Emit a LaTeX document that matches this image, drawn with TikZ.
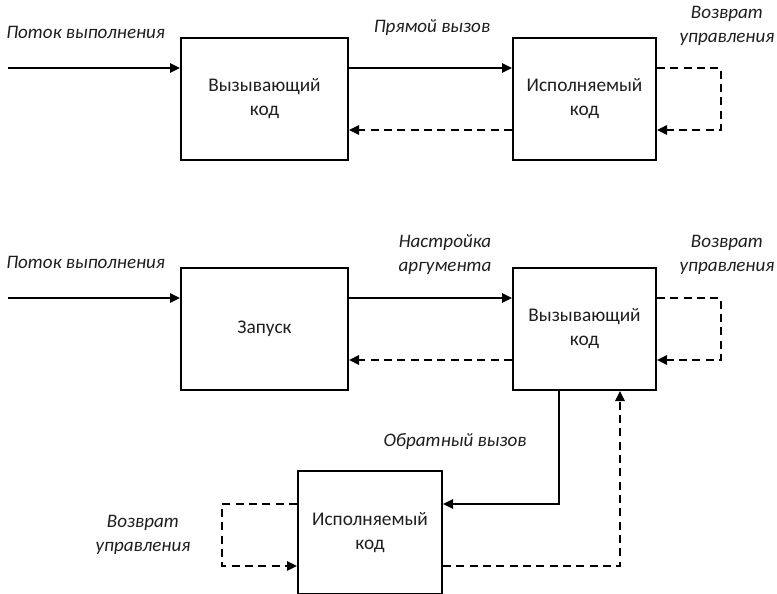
\documentclass[tikz,border=0pt]{standalone}
\usepackage{fontspec}
\setmainfont{Carlito}
\usetikzlibrary{arrows.meta}
\definecolor{txt}{RGB}{30,30,30}
\begin{document}
\begin{tikzpicture}[x=0.75pt,y=-0.75pt,
  box/.style={draw,line width=1.5pt,rectangle,align=center,text=txt,
    font=\fontsize{14.5pt}{18pt}\selectfont,inner sep=0pt},
  lbl/.style={align=center,text=txt,font=\fontsize{14.3pt}{18pt}\selectfont\itshape,inner sep=0pt},
  conn/.style={line width=1.5pt,-{Triangle[length=7.5pt,width=7pt]}},
  dconn/.style={conn,dash pattern=on 6pt off 4pt},
  dline/.style={line width=1.5pt,dash pattern=on 6pt off 4pt}]
\useasboundingbox (0,0) rectangle (777,593);
% boxes
\node[box,minimum width=125.25pt,minimum height=91.5pt] (b1) at (264.5,99) {Вызывающий\\код};
\node[box,minimum width=107.25pt,minimum height=91.5pt] (b2) at (584.5,99) {Исполняемый\\код};
\node[box,minimum width=125.25pt,minimum height=91.5pt] (b3) at (264.5,329) {Запуск};
\node[box,minimum width=107.25pt,minimum height=91.5pt] (b4) at (584.5,329) {Вызывающий\\код};
\node[box,minimum width=108pt,minimum height=92.25pt] (b5) at (370,532.5) {Исполняемый\\код};
% labels
\node[lbl,anchor=west] (l1) at (6,32) {Поток выполнения};
\node[lbl] (l2) at (432,28) {Прямой вызов};
\node[lbl] (l3) at (727,26) {Возврат\\управления};
\node[lbl,anchor=west] (l4) at (6,262) {Поток выполнения};
\node[lbl] (l5) at (445,255) {Настройка\\аргумента};
\node[lbl] (l6) at (727,255) {Возврат\\управления};
\node[lbl] (l7) at (455,442) {Обратный вызов};
\node[lbl] (l8) at (143,535) {Возврат\\управления};
% coordinates
\coordinate (s1) at (8,68);
\coordinate (d1) at (0,130);
\coordinate (r1a) at (721,68);
\coordinate (r1b) at (721,130);
\coordinate (s2) at (8,298);
\coordinate (d2) at (0,360);
\coordinate (r2a) at (721,298);
\coordinate (r2b) at (721,360);
\coordinate (cb) at (559,504);
\coordinate (rb) at (620,566);
\coordinate (ll1) at (222,504);
\coordinate (ll2) at (222,566);
% row 1
\draw[conn] (s1) -- (s1 -| b1.west);
\draw[conn] (b1.east |- s1) -- (b2.west |- s1);
\draw[dconn] (b2.west |- d1) -- (b1.east |- d1);
\draw[dconn] (b2.east |- r1a) -- (r1a) -- (r1b) -- (b2.east |- r1b);
% row 2
\draw[conn] (s2) -- (s2 -| b3.west);
\draw[conn] (b3.east |- s2) -- (b4.west |- s2);
\draw[dconn] (b4.west |- d2) -- (b3.east |- d2);
\draw[dconn] (b4.east |- r2a) -- (r2a) -- (r2b) -- (b4.east |- r2b);
% callback
\draw[conn] (b4.south -| cb) -- (cb) -- (b5.east |- cb);
\draw[dconn] (b5.east |- rb) -- (rb) -- (rb |- b4.south);
\draw[dconn] (b5.west |- ll1) -- (ll1) -- (ll2) -- (b5.west |- ll2);
\end{tikzpicture}
\end{document}
